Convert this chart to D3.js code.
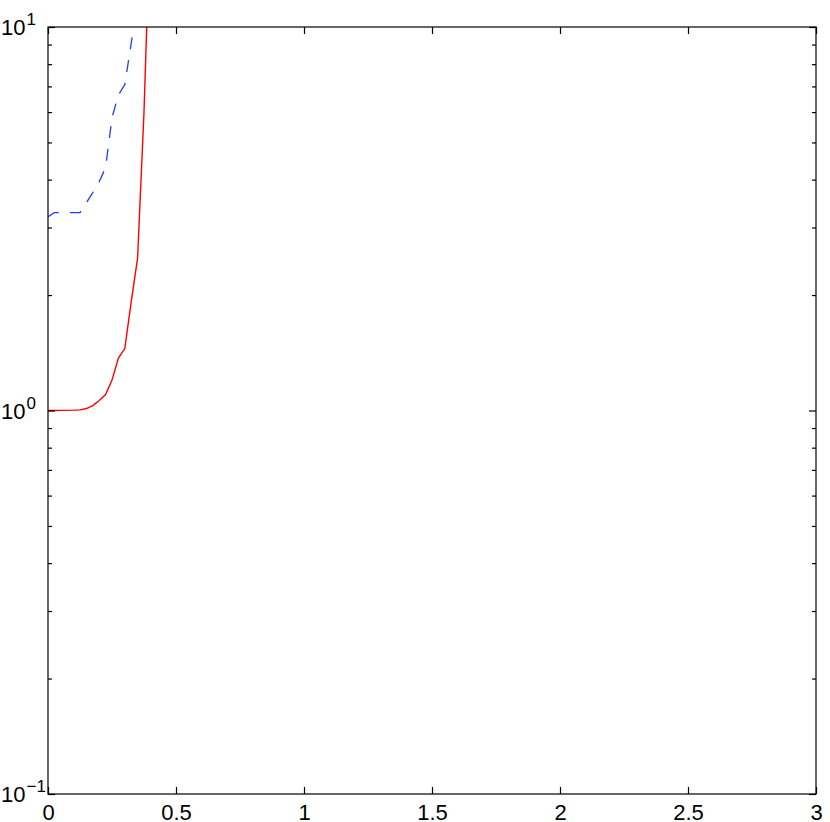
<!DOCTYPE html>
<html>
<head>
<meta charset="utf-8">
<script src="https://cdn.jsdelivr.net/npm/d3@7"></script>
<style>
  html, body { margin: 0; padding: 0; background: #fff; }
  svg { display: block; }
  text { font-family: "Liberation Sans", Arial, Helvetica, sans-serif; fill: #000; }
</style>
</head>
<body>
<svg id="chart" width="830" height="822"></svg>
<script>
// values
const redX = [0, 0.025, 0.05, 0.075, 0.1, 0.125, 0.15, 0.175, 0.2, 0.225, 0.25, 0.275, 0.3, 0.325, 0.35, 0.375, 0.4];
const redY = [1, 1, 1.001, 1.001, 1.002, 1.004, 1.012, 1.03, 1.062, 1.1, 1.2, 1.37, 1.45, 1.92, 2.5, 6.0, 20];

const blueX = [0, 0.025, 0.05, 0.075, 0.1, 0.125, 0.15, 0.175, 0.2, 0.225, 0.25, 0.275, 0.3, 0.325, 0.35];
const blueY = [3.2, 3.28, 3.28, 3.28, 3.28, 3.28, 3.48, 3.7, 3.95, 4.3, 5.8, 6.65, 7.08, 9.06, 11.6];

const xTicks = [0, 0.5, 1, 1.5, 2, 2.5, 3];
const xTickLabels = ['0', '0.5', '1', '1.5', '2', '2.5', '3'];
const yMajor = [0.1, 1, 10];
const yExponents = ['\u22121', '0', '1'];
const yMinor = [0.2, 0.3, 0.4, 0.5, 0.6, 0.7, 0.8, 0.9, 2, 3, 4, 5, 6, 7, 8, 9];

const svg = d3.select('#chart');
const plotLeft = 48, plotRight = 816, plotTop = 27, plotBottom = 794;

const x = d3.scaleLinear().domain([0, 3]).range([plotLeft, plotRight]);
const y = d3.scaleLog().domain([0.1, 10]).range([plotBottom, plotTop]);

svg.append('clipPath')
  .attr('id', 'plotClip')
  .append('rect')
  .attr('x', plotLeft).attr('y', plotTop)
  .attr('width', plotRight - plotLeft).attr('height', plotBottom - plotTop);

const line = d3.line()
  .x(d => x(d[0]))
  .y(d => y(d[1]));

const plot = svg.append('g').attr('clip-path', 'url(#plotClip)');

plot.append('path')
  .datum(blueX.map((v, i) => [v, blueY[i]]))
  .attr('fill', 'none')
  .attr('stroke', '#1f3dff')
  .attr('stroke-width', 1.3)
  .attr('stroke-dasharray', '12,11')
  .attr('d', line);

plot.append('path')
  .datum(redX.map((v, i) => [v, redY[i]]))
  .attr('fill', 'none')
  .attr('stroke', '#ff0000')
  .attr('stroke-width', 1.4)
  .attr('d', line);

// axes, ticks point inward
function styleAxis(g) {
  g.select('.domain').remove();
  g.selectAll('.tick line').attr('stroke', '#000').attr('stroke-width', 1.2);
}

svg.append('g')
  .attr('transform', `translate(0,${plotBottom})`)
  .call(d3.axisBottom(x).tickValues(xTicks).tickFormat((d, i) => xTickLabels[i])
    .tickSize(-7).tickPadding(10))
  .call(styleAxis)
  .call(g => g.selectAll('.tick text').attr('font-size', 22)
    .attr('font-family', '"Liberation Sans", Arial, sans-serif'));

svg.append('g')
  .attr('transform', `translate(0,${plotTop})`)
  .call(d3.axisTop(x).tickValues(xTicks).tickFormat('').tickSize(-7))
  .call(styleAxis);

svg.append('g')
  .attr('transform', `translate(${plotLeft},0)`)
  .call(d3.axisLeft(y).tickValues(yMajor).tickFormat('').tickSize(-7))
  .call(styleAxis);

svg.append('g')
  .attr('transform', `translate(${plotLeft},0)`)
  .call(d3.axisLeft(y).tickValues(yMinor).tickFormat('').tickSize(-4))
  .call(styleAxis);

svg.append('g')
  .attr('transform', `translate(${plotRight},0)`)
  .call(d3.axisRight(y).tickValues(yMajor).tickFormat('').tickSize(-7))
  .call(styleAxis);

svg.append('g')
  .attr('transform', `translate(${plotRight},0)`)
  .call(d3.axisRight(y).tickValues(yMinor).tickFormat('').tickSize(-4))
  .call(styleAxis);

// y labels as 10 with a superscript exponent
const yLabels = svg.append('g').selectAll('text')
  .data(yMajor)
  .join('text')
  .attr('x', 1)
  .attr('y', d => y(d) + 8)
  .attr('font-size', 22);

yLabels.append('tspan').text('10');
yLabels.append('tspan')
  .attr('font-size', 17)
  .attr('dy', -10)
  .attr('dx', 1)
  .text((d, i) => yExponents[i]);

// box
svg.append('rect')
  .attr('x', plotLeft).attr('y', plotTop)
  .attr('width', plotRight - plotLeft).attr('height', plotBottom - plotTop)
  .attr('fill', 'none')
  .attr('stroke', '#000')
  .attr('stroke-width', 1.2);
</script>
</body>
</html>
